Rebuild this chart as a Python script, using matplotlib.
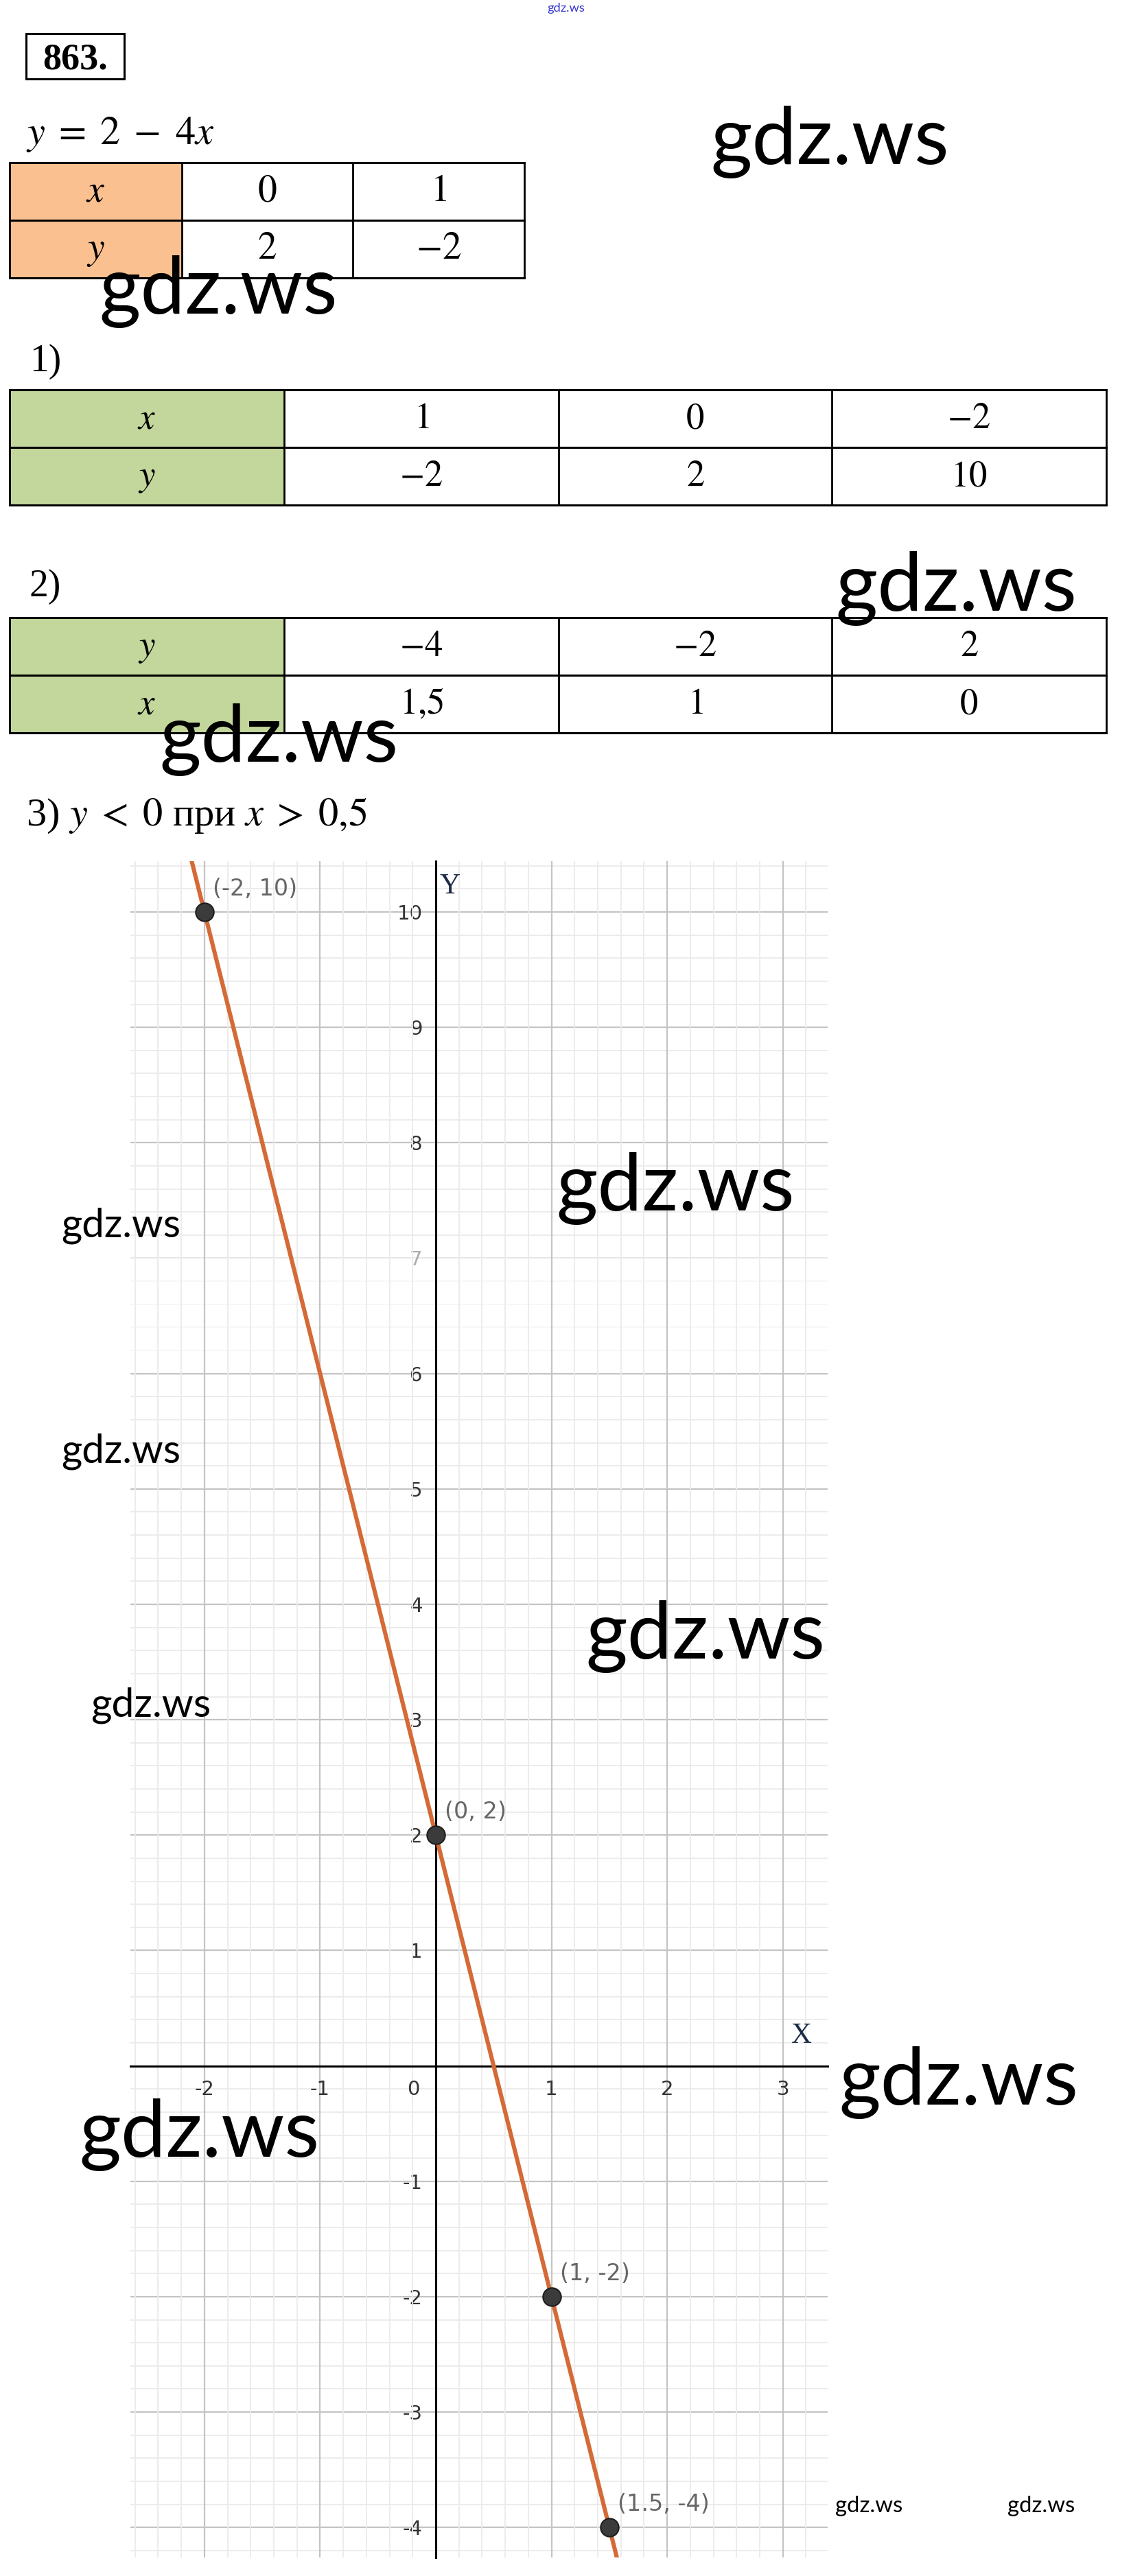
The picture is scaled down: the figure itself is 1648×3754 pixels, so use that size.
import matplotlib
matplotlib.use("Agg")
import matplotlib.pyplot as plt
from matplotlib.patches import Rectangle
from matplotlib.ticker import MultipleLocator

plt.rcParams["mathtext.fontset"] = "stix"

W, H = 1648, 3754

# таблица для y = 2 - 4x
tab0_x = [0, 1]
tab0_y = [2, -2]
# 1)
tab1_x = [1, 0, -2]
tab1_y = [-2, 2, 10]
# 2)
tab2_y = [-4, -2, 2]
tab2_x = [1.5, 1, 0]

# точки на графике
pts_x = [-2, 0, 1, 1.5]
pts_y = [10, 2, -2, -4]

x_ticks = [-2, -1, 1, 2, 3]
y_ticks = [-4, -3, -2, -1, 1, 2, 3, 4, 5, 6, 7, 8, 9, 10]

LINE = "#d46a36"
PEACH = "#fac090"
GREEN = "#c3d69b"

fig = plt.figure(figsize=(W / 100, H / 100), dpi=100)
page = fig.add_axes([0, 0, 1, 1])
page.set_xlim(0, W)
page.set_ylim(H, 0)
page.axis("off")


def num(v):
    return "$" + f"{v:g}".replace(".", "{,}") + "$"


def table(xs, ys, rows, head, size):
    for r, (name, vals) in enumerate(rows):
        y0, y1 = ys[r], ys[r + 1]
        page.add_patch(Rectangle((xs[0], y0), xs[1] - xs[0], y1 - y0, fc=head, ec="none"))
        cells = ["$" + name + "$"] + [num(v) for v in vals]
        for c, s in enumerate(cells):
            page.text((xs[c] + xs[c + 1]) / 2, y0 + 0.67 * (y1 - y0), s,
                      ha="center", va="baseline", fontsize=size)
    for x in xs:
        page.plot([x, x], [ys[0], ys[-1]], color="black", lw=2, solid_capstyle="projecting")
    for y in ys:
        page.plot([xs[0], xs[-1]], [y, y], color="black", lw=2.2, solid_capstyle="projecting")


# заголовок
page.add_patch(Rectangle((38, 49), 143, 66, fill=False, ec="black", lw=2.2))
page.text(109.5, 100, "863.", ha="center", va="baseline", fontsize=39,
          fontweight="bold", family="Liberation Serif")
page.text(38, 210, r"$y\;=\;2\;-\;4x$", ha="left", va="baseline", fontsize=42)

table([14, 265, 514, 764], [237, 321, 405], [("x", tab0_x), ("y", tab0_y)], PEACH, 40)

page.text(43, 541, "1)", ha="left", va="baseline", fontsize=40, family="Liberation Serif")
table([14, 414, 814, 1212, 1612], [568, 652, 736], [("x", tab1_x), ("y", tab1_y)], GREEN, 38)

page.text(43, 869, "2)", ha="left", va="baseline", fontsize=40, family="Liberation Serif")
table([14, 414, 814, 1212, 1612], [900, 984, 1068], [("y", tab2_y), ("x", tab2_x)], GREEN, 38)

page.text(38, 1203, r"3) $y\;<\;0$ при $x\;>\;0{,}5$", ha="left", va="baseline",
          fontsize=42, family="Liberation Serif")

# график
ax = fig.add_axes([190 / W, 1 - 3727 / H, (1205.6 - 190) / W, (3727 - 1255) / H])
ax.set_xlim(-2.64, 3.385)
ax.set_ylim(-4.26, 10.44)
ax.xaxis.set_minor_locator(MultipleLocator(0.2))
ax.yaxis.set_minor_locator(MultipleLocator(0.2))
ax.set_xticks(x_ticks, [f"{t:g}" for t in x_ticks])
ax.set_yticks(y_ticks, [f"{t:g}" for t in y_ticks])
ax.grid(which="major", color="#c4c4c4", lw=1.6)
ax.grid(which="minor", color="#ebebeb", lw=1.3)
ax.tick_params(which="both", length=0)
ax.tick_params(axis="x", pad=15, labelsize=21, labelcolor="#333333")
ax.tick_params(axis="y", pad=14, labelsize=21, labelcolor="#333333")
for side in ("top", "right"):
    ax.spines[side].set_visible(False)
for side in ("left", "bottom"):
    ax.spines[side].set_position(("data", 0))
    ax.spines[side].set_linewidth(2.2)
    ax.spines[side].set_color("black")

# размытая полоса около y = 7
ax.yaxis.set_zorder(0.6)
ax.add_patch(Rectangle((-2.64, 6.1), 6.1, 1.05, fc="white", ec="none", alpha=0.6, zorder=0.8))

ax.axline((pts_x[1], pts_y[1]), (pts_x[0], pts_y[0]), color=LINE, lw=4.4, zorder=3)
ax.plot(pts_x, pts_y, "o", ms=19, mfc="#3b3b3b", mec="#1e1e1e", mew=1.5, zorder=4)
for x, y in zip(pts_x, pts_y):
    ax.annotate(f"({x:g}, {y:g})", (x, y), xytext=(9, 24), textcoords="offset points",
                ha="left", va="center", fontsize=24, color="#666666")
ax.annotate("0", (0, 0), xytext=(-17, -15), textcoords="offset points",
            ha="right", va="top", fontsize=21, color="#333333")
ax.text(0.12, 10.22, "Y", ha="center", va="center", fontsize=30,
        family="Liberation Serif", color="#1c2b45")
ax.text(3.157, 0.26, "X", ha="center", va="center", fontsize=30,
        family="Liberation Serif", color="#1c2b45")

# водяные знаки
renderer = fig.canvas.get_renderer()


def mark(x0, x1, yc, color="black"):
    t = fig.text(x0, yc, "gdz.ws", transform=page.transData, family="Lato",
                 fontsize=40, color=color, ha="left", va="center")
    w = t.get_window_extent(renderer).width
    t.set_fontsize(40 * (x1 - x0) / w)


for x0, x1, yc in [(1035, 1382, 207), (144, 491, 425), (1217, 1569, 857), (232, 580, 1078),
                   (810, 1157, 1732), (853, 1202, 2385), (1222, 1571, 3035), (115, 465, 3111)]:
    mark(x0, x1, yc)
for x0, x1, yc in [(89, 263, 1786), (89, 263, 2115), (132, 307, 2485),
                   (1217, 1315, 3652), (1468, 1566, 3652)]:
    mark(x0, x1, yc)
mark(797, 852, 12, color="#3a3ad0")

fig.savefig("out.png", dpi=100)
